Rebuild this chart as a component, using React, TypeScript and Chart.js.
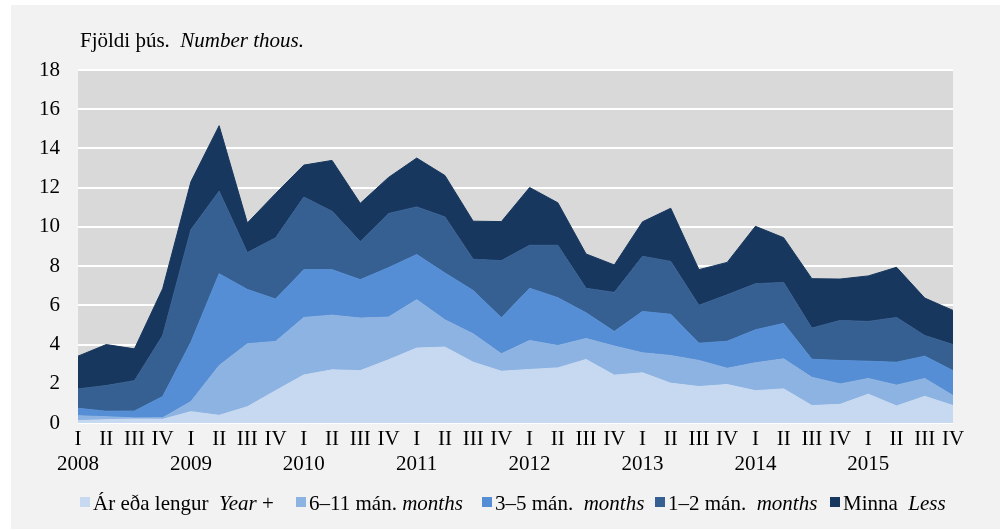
import { useEffect, useRef } from "react";
import { Chart, registerables } from "chart.js";

Chart.register(...registerables);

const years = ["2008", "2009", "2010", "2011", "2012", "2013", "2014", "2015"];
const quarterNames = ["I", "II", "III", "IV"];

// Thousands of people, by duration (stacked)
const yearPlus = [0.12, 0.17, 0.2, 0.19, 0.58, 0.39, 0.83, 1.65, 2.45, 2.71, 2.67, 3.22, 3.82, 3.87, 3.1, 2.64, 2.73, 2.81, 3.24, 2.44, 2.56, 2.03, 1.86, 1.96, 1.65, 1.74, 0.89, 0.95, 1.47, 0.87, 1.36, 0.89];
const months6to11 = [0.25, 0.15, 0.06, 0.08, 0.51, 2.54, 3.21, 2.51, 2.93, 2.79, 2.68, 2.18, 2.47, 1.39, 1.45, 0.89, 1.48, 1.14, 1.07, 1.48, 1.02, 1.41, 1.33, 0.83, 1.42, 1.53, 1.44, 1.04, 0.8, 1.06, 0.91, 0.51];
const months3to5 = [0.38, 0.28, 0.35, 1.08, 3.03, 4.68, 2.77, 2.16, 2.44, 2.32, 1.96, 2.52, 2.3, 2.39, 2.21, 1.84, 2.66, 2.44, 1.31, 0.75, 2.11, 2.1, 0.88, 1.38, 1.68, 1.81, 0.92, 1.2, 0.88, 1.17, 1.14, 1.27];
const months1to2 = [0.99, 1.31, 1.55, 3.11, 5.74, 4.21, 1.88, 3.12, 3.7, 2.98, 1.94, 2.76, 2.43, 2.86, 1.59, 2.91, 2.19, 2.67, 1.25, 1.99, 2.81, 2.7, 1.93, 2.37, 2.35, 2.09, 1.59, 2.04, 2.03, 2.28, 1.05, 1.33];
const lessThanMonth = [1.67, 2.09, 1.62, 2.39, 2.44, 3.34, 1.51, 2.26, 1.63, 2.59, 1.95, 1.84, 2.49, 2.11, 1.94, 1.99, 2.95, 2.17, 1.75, 1.4, 1.76, 2.71, 1.82, 1.65, 2.93, 2.28, 2.52, 2.11, 2.32, 2.56, 1.91, 1.74];

const yMin = 0;
const yMax = 18;
const yStep = 2;

const seriesNames = ["Ár eða lengur", "6–11 mán.", "3–5 mán.", "1–2 mán.", "Minna"];
const seriesColors = ["#C6D9F1", "#8DB3E2", "#558ED5", "#376092", "#17375E"];

const FONT = "'Liberation Serif', 'Times New Roman', serif";

const labels = years.flatMap((y) => quarterNames.map((q, i) => (i === 0 ? [q, y] : [q, ""])));

const plotBg = {
  id: "plotBg",
  beforeDraw(chart: any) {
    const { ctx, chartArea } = chart;
    ctx.save();
    ctx.fillStyle = "#D9D9D9";
    ctx.fillRect(chartArea.left, chartArea.top, chartArea.right - chartArea.left, chartArea.bottom - chartArea.top);
    ctx.restore();
  },
};

export default function App() {
  const ref = useRef<HTMLCanvasElement | null>(null);

  useEffect(() => {
    if (!ref.current) return;
    const values = [yearPlus, months6to11, months3to5, months1to2, lessThanMonth];
    const chart = new Chart(ref.current, {
      type: "line",
      data: {
        labels,
        datasets: values.map((v, i) => ({
          label: seriesNames[i],
          data: v,
          backgroundColor: seriesColors[i],
          borderColor: seriesColors[i],
          borderWidth: 1,
          pointRadius: 0,
          tension: 0,
          fill: i === 0 ? "origin" : "-1",
        })),
      },
      options: {
        responsive: false,
        animation: false,
        layout: { padding: { left: 0, right: 47, top: 70, bottom: 47 } },
        plugins: { legend: { display: false }, tooltip: { enabled: false }, title: { display: false } },
        scales: {
          x: {
            offset: false,
            grid: { display: false, drawTicks: false },
            border: { display: false },
            ticks: {
              autoSkip: false,
              maxRotation: 0,
              minRotation: 0,
              padding: 4,
              color: "#000",
              font: { family: FONT, size: 21, lineHeight: 1.2 },
            },
            afterFit: (s: any) => {
              s.height = 60;
            },
          },
          y: {
            stacked: true,
            min: yMin,
            max: yMax,
            ticks: {
              stepSize: yStep,
              padding: 18,
              color: "#000",
              font: { family: FONT, size: 21 },
            },
            grid: { color: "#FFFFFF", lineWidth: 2, drawTicks: false },
            border: { display: false },
            afterFit: (s: any) => {
              s.width = 78;
            },
          },
        },
      },
      plugins: [plotBg],
    });
    return () => chart.destroy();
  }, []);

  const textStyle: any = {
    position: "absolute",
    fontFamily: FONT,
    fontSize: 21,
    lineHeight: "24px",
    color: "#000",
    whiteSpace: "pre",
  };

  const legendItems = [
    { left: 80, normal: "Ár eða lengur  ", italic: "Year", after: " +" },
    { left: 296, normal: "6–11 mán. ", italic: "months", after: "" },
    { left: 482, normal: "3–5 mán.  ", italic: "months", after: "" },
    { left: 655, normal: "1–2 mán.  ", italic: "months", after: "" },
    { left: 830, normal: "Minna  ", italic: "Less", after: "" },
  ];

  return (
    <div style={{ position: "absolute", left: 0, top: 0, width: 1000, height: 530, background: "#FFFFFF", overflow: "hidden" }}>
      <div style={{ position: "absolute", left: 11, top: 5, width: 989, height: 524, background: "#F2F2F2" }} />
      <canvas ref={ref} width={1000} height={530} style={{ position: "absolute", left: 0, top: 0, width: 1000, height: 530 }} />
      <div style={{ ...textStyle, left: 80, top: 28 }}>
        Fjöldi þús.  <i>Number thous.</i>
      </div>
      {legendItems.map((it, i) => (
        <div key={i}>
          <div style={{ position: "absolute", left: it.left, top: 497, width: 10, height: 10, background: seriesColors[i] }} />
          <div style={{ ...textStyle, left: it.left + 13, top: 491 }}>
            {it.normal}
            <i>{it.italic}</i>
            {it.after}
          </div>
        </div>
      ))}
    </div>
  );
}
